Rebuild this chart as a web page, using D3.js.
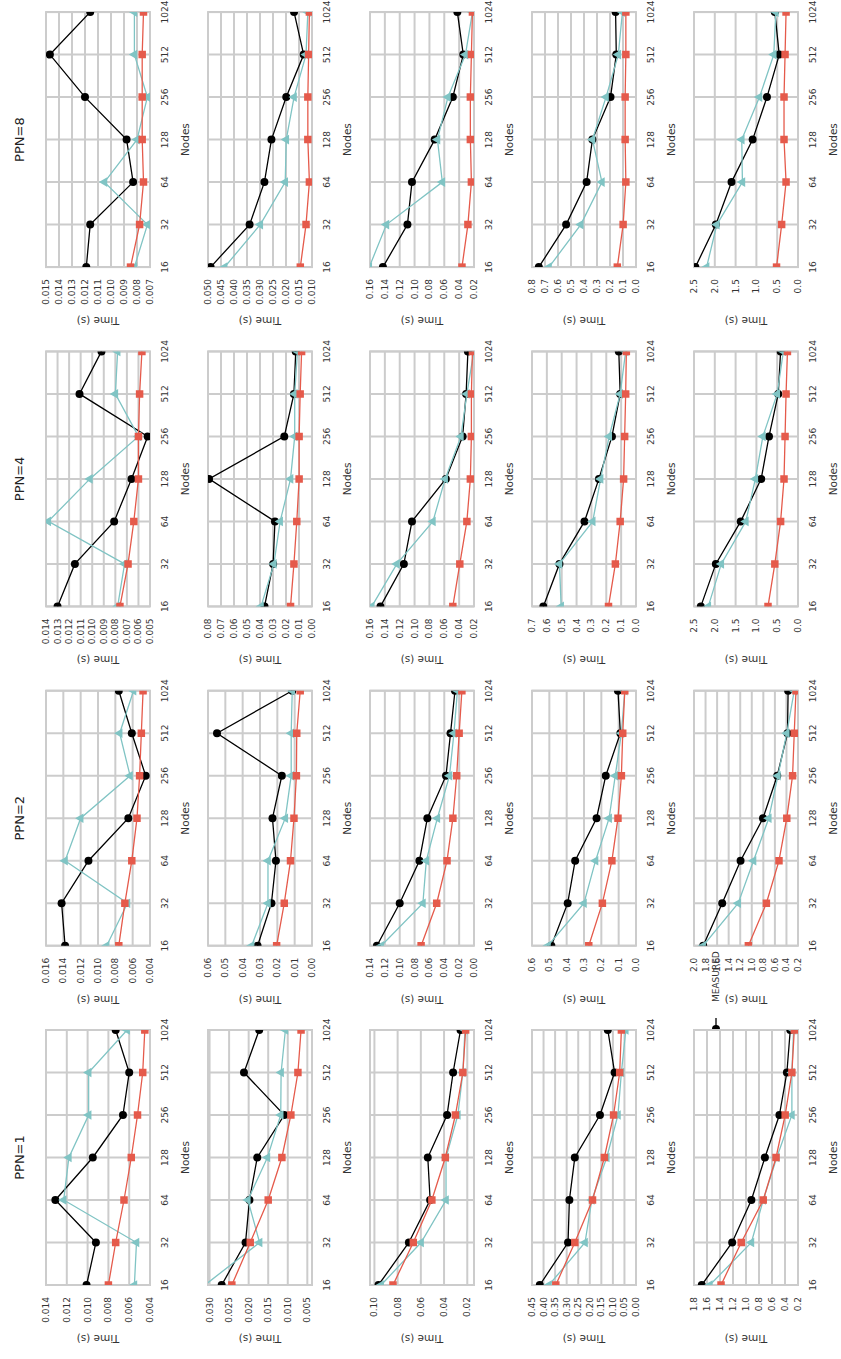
<!DOCTYPE html>
<html>
<head>
<meta charset="utf-8">
<script src="https://cdn.jsdelivr.net/npm/d3@7"></script>
<style>
  body { margin: 0; background: #fff; }
  svg text { font-family: "DejaVu Sans", sans-serif; }
</style>
</head>
<body>
<svg id="fig" width="841" height="1359"></svg>
<script>
// Node counts on the x axis (log2 scale)
const nodes = [16, 32, 64, 128, 256, 512, 1024];
const ppnTitles = ["PPN=1", "PPN=2", "PPN=4", "PPN=8"];

// Times in seconds: [row][ppn][node]
const measured = [
  [[0.0101,0.0092,0.0131,0.0095,0.0066,0.0060,0.0073],
   [0.0138,0.0142,0.0111,0.0065,0.0045,0.0061,0.0076],
   [0.0130,0.0115,0.0081,0.0066,0.0052,0.0111,0.0092],
   [0.0119,0.0116,0.0083,0.0088,0.0120,0.0147,0.0116]],
  [[0.0269,0.0208,0.0198,0.0178,0.0109,0.0212,0.0173],
   [0.0314,0.0234,0.0208,0.0228,0.0174,0.0548,0.0114],
   [0.0365,0.0299,0.0285,0.0792,0.0213,0.0139,0.0125],
   [0.0490,0.0340,0.0283,0.0256,0.0199,0.0132,0.0169]],
  [[0.0965,0.0703,0.0520,0.0540,0.0374,0.0322,0.0258],
   [0.1307,0.1000,0.0735,0.0628,0.0377,0.0316,0.0256],
   [0.1459,0.1144,0.1035,0.0579,0.0353,0.0306,0.0282],
   [0.1426,0.1096,0.1035,0.0729,0.0485,0.0344,0.0424]],
  [[0.4162,0.2941,0.2882,0.2647,0.1559,0.0926,0.1220],
   [0.4882,0.3941,0.3510,0.2275,0.1745,0.0902,0.1040],
   [0.6238,0.5152,0.3467,0.2497,0.1619,0.1065,0.1157],
   [0.7475,0.5375,0.3800,0.3354,0.1960,0.1517,0.1570]],
  [[1.680,1.213,0.917,0.709,0.486,0.371,0.319],
   [1.841,1.512,1.194,0.806,0.559,0.382,0.371],
   [2.336,1.975,1.377,0.885,0.697,0.475,0.418],
   [2.467,1.975,1.598,1.090,0.746,0.451,0.557]]
];

const modelA = [
  [[0.0055,0.0053,0.0123,0.0118,0.0099,0.0099,0.0062],
   [0.0090,0.0066,0.0138,0.0120,0.0063,0.0075,0.0059],
   [0.0078,0.0072,0.0138,0.0102,0.0060,0.0080,0.0078],
   [0.0082,0.0072,0.0105,0.0080,0.0072,0.0082,0.0082]],
  [[0.0312,0.0172,0.0202,0.0152,0.0118,0.0117,0.0106],
   [0.0348,0.0254,0.0254,0.0154,0.0120,0.0120,0.0114],
   [0.0392,0.0293,0.0245,0.0165,0.0133,0.0133,0.0112],
   [0.0436,0.0299,0.0203,0.0199,0.0169,0.0123,0.0116]],
  [[0.0942,0.0598,0.0383,0.0383,0.0281,0.0238,0.0220],
   [0.1247,0.0688,0.0642,0.0493,0.0330,0.0270,0.0223],
   [0.1576,0.1238,0.0753,0.0588,0.0376,0.0296,0.0202],
   [0.1610,0.1379,0.0626,0.0692,0.0551,0.0315,0.0221]],
  [[0.3765,0.2206,0.1912,0.1265,0.0780,0.0632,0.0441],
   [0.5078,0.3000,0.2333,0.1550,0.1196,0.0843,0.0647],
   [0.5037,0.5152,0.2912,0.2381,0.1804,0.1065,0.0695],
   [0.6690,0.4247,0.2620,0.3350,0.2304,0.1360,0.1045]],
  [[1.556,0.917,0.735,0.527,0.294,0.294,0.268],
   [1.841,1.235,0.970,0.706,0.547,0.394,0.265],
   [2.156,1.844,1.254,1.025,0.844,0.500,0.352],
   [2.197,1.951,1.336,1.352,0.926,0.582,0.533]]
];

const modelB = [
  [[0.0080,0.0073,0.0065,0.0058,0.0052,0.0047,0.0045],
   [0.0076,0.0069,0.0061,0.0055,0.0052,0.0050,0.0048],
   [0.0076,0.0069,0.0064,0.0060,0.0060,0.0059,0.0057],
   [0.0085,0.0078,0.0075,0.0076,0.0076,0.0076,0.0075]],
  [[0.0243,0.0196,0.0150,0.0115,0.0092,0.0074,0.0066],
   [0.0204,0.0160,0.0124,0.0104,0.0090,0.0088,0.0068],
   [0.0165,0.0139,0.0117,0.0099,0.0099,0.0091,0.0080],
   [0.0145,0.0123,0.0110,0.0116,0.0116,0.0113,0.0110]],
  [[0.0840,0.0665,0.0505,0.0389,0.0302,0.0238,0.0214],
   [0.0712,0.0502,0.0363,0.0284,0.0233,0.0200,0.0163],
   [0.0485,0.0391,0.0296,0.0249,0.0235,0.0235,0.0221],
   [0.0362,0.0282,0.0235,0.0249,0.0249,0.0235,0.0221]],
  [[0.3470,0.2647,0.1882,0.1368,0.0970,0.0706,0.0632],
   [0.2725,0.1940,0.1390,0.1040,0.0843,0.0765,0.0647],
   [0.1850,0.1388,0.1065,0.0834,0.0764,0.0695,0.0650],
   [0.1438,0.0990,0.0780,0.0835,0.0835,0.0780,0.0780]],
  [[1.384,1.073,0.735,0.538,0.397,0.294,0.257],
   [1.059,0.747,0.529,0.394,0.294,0.265,0.235],
   [0.721,0.557,0.418,0.336,0.311,0.287,0.254],
   [0.516,0.393,0.287,0.336,0.336,0.311,0.287]]
];

// Y tick labels per panel: [row][ppn]
const yTickLabels = [
  [["0.004","0.006","0.008","0.010","0.012","0.014"],
   ["0.004","0.006","0.008","0.010","0.012","0.014","0.016"],
   ["0.005","0.006","0.007","0.008","0.009","0.010","0.011","0.012","0.013","0.014"],
   ["0.007","0.008","0.009","0.010","0.011","0.012","0.013","0.014","0.015"]],
  [["0.005","0.010","0.015","0.020","0.025","0.030"],
   ["0.00","0.01","0.02","0.03","0.04","0.05","0.06"],
   ["0.00","0.01","0.02","0.03","0.04","0.05","0.06","0.07","0.08"],
   ["0.010","0.015","0.020","0.025","0.030","0.035","0.040","0.045","0.050"]],
  [["0.02","0.04","0.06","0.08","0.10"],
   ["0.00","0.02","0.04","0.06","0.08","0.10","0.12","0.14"],
   ["0.02","0.04","0.06","0.08","0.10","0.12","0.14","0.16"],
   ["0.02","0.04","0.06","0.08","0.10","0.12","0.14","0.16"]],
  [["0.00","0.05","0.10","0.15","0.20","0.25","0.30","0.35","0.40","0.45"],
   ["0.0","0.1","0.2","0.3","0.4","0.5","0.6"],
   ["0.0","0.1","0.2","0.3","0.4","0.5","0.6","0.7"],
   ["0.0","0.1","0.2","0.3","0.4","0.5","0.6","0.7","0.8"]],
  [["0.2","0.4","0.6","0.8","1.0","1.2","1.4","1.6","1.8"],
   ["0.2","0.4","0.6","0.8","1.0","1.2","1.4","1.6","1.8","2.0"],
   ["0.0","0.5","1.0","1.5","2.0","2.5"],
   ["0.0","0.5","1.0","1.5","2.0","2.5"]]
];

// Y axis limits per panel: [row][ppn] = [low, high]
const yLimits = [
  [[0.004,0.014],[0.004,0.016],[0.005,0.014],[0.007,0.015]],
  [[0.0038,0.0304],[0.0,0.06],[0.0,0.08],[0.010,0.050]],
  [[0.0142,0.1038],[0.0,0.14],[0.02,0.16],[0.02,0.16]],
  [[0.0,0.45],[0.0,0.6],[0.0,0.7],[0.0,0.8]],
  [[0.2,1.8],[0.2,2.0],[0.0,2.5],[0.0,2.5]]
];

const seriesStyles = [
  { key: "measured", data: measured, color: "#000000", symbol: d3.symbolCircle, size: 50 },
  { key: "modelA",   data: modelA,   color: "#80c4c4", symbol: d3.symbolTriangle, size: 40 },
  { key: "modelB",   data: modelB,   color: "#e55a4b", symbol: d3.symbolSquare, size: 56 }
];

// Landscape figure, turned a quarter turn counter-clockwise onto the page
const FW = 1359, FH = 841;
const svg = d3.select("#fig");
const fig = svg.append("g").attr("transform", `translate(0,${FW}) rotate(-90)`);

const panelW = 255, panelH = 104;
const colLeft = i => 74 + i * 339.3;
const rowTop = j => 46 + j * 162;
const gridColor = "#cccccc";
const tickColor = "#333333";

// Legend (sits behind the panels)
const legend = fig.append("g").attr("transform", `translate(330,716)`);
legend.append("line").attr("x1", -10).attr("x2", 11).attr("y1", 0).attr("y2", 0)
  .attr("stroke", "#000").attr("stroke-width", 1.3);
legend.append("path").attr("d", d3.symbol(d3.symbolCircle, 50)()).attr("fill", "#000");
legend.append("text").attr("x", 27).attr("y", 0).attr("dominant-baseline", "central")
  .attr("font-size", 9).attr("fill", tickColor).text("MEASURED");

const x = d3.scaleLog().base(2).domain([16, 1024]).range([0, panelW]);

for (let j = 0; j < 5; j++) {
  for (let i = 0; i < 4; i++) {
    const g = fig.append("g").attr("transform", `translate(${colLeft(i)},${rowTop(j)})`);
    const y = d3.scaleLinear().domain(yLimits[j][i]).range([panelH, 0]);
    const ticks = yTickLabels[j][i];
    const clipId = `clip-${j}-${i}`;
    g.append("clipPath").attr("id", clipId)
      .append("rect").attr("width", panelW).attr("height", panelH);

    g.append("rect").attr("width", panelW).attr("height", panelH).attr("fill", "#fff");

    // grid
    g.append("g").selectAll("line").data(nodes).join("line")
      .attr("x1", d => x(d)).attr("x2", d => x(d)).attr("y1", 0).attr("y2", panelH)
      .attr("stroke", gridColor).attr("stroke-width", 2);
    g.append("g").selectAll("line").data(ticks).join("line")
      .attr("x1", 0).attr("x2", panelW).attr("y1", d => y(+d)).attr("y2", d => y(+d))
      .attr("stroke", gridColor).attr("stroke-width", 2);
    g.append("rect").attr("width", panelW).attr("height", panelH)
      .attr("fill", "none").attr("stroke", gridColor).attr("stroke-width", 2);

    // series
    const plot = g.append("g").attr("clip-path", `url(#${clipId})`);
    seriesStyles.forEach(s => {
      const vals = s.data[j][i];
      const pts = nodes.map((n, k) => [x(n), y(vals[k])]);
      plot.append("path").attr("d", d3.line()(pts))
        .attr("fill", "none").attr("stroke", s.color).attr("stroke-width", 1.3);
      plot.append("g").selectAll("path").data(pts).join("path")
        .attr("transform", p => `translate(${p[0]},${p[1]})`)
        .attr("d", d3.symbol(s.symbol, s.size)())
        .attr("fill", s.color);
    });

    // x tick labels
    g.append("g").selectAll("text").data(nodes).join("text")
      .attr("x", d => x(d)).attr("y", panelH + 15)
      .attr("text-anchor", "middle").attr("dominant-baseline", "central")
      .attr("font-size", 9).attr("fill", tickColor).text(d => d);
    // y tick labels
    g.append("g").selectAll("text").data(ticks).join("text")
      .attr("x", -12).attr("y", d => y(+d))
      .attr("text-anchor", "end").attr("dominant-baseline", "central")
      .attr("font-size", 9).attr("fill", tickColor).text(d => d);

    g.append("text").attr("x", panelW / 2).attr("y", panelH + 35)
      .attr("text-anchor", "middle").attr("dominant-baseline", "central")
      .attr("font-size", 10.5).attr("fill", tickColor).text("Nodes");
    g.append("text")
      .attr("transform", `translate(-54,${panelH / 2}) rotate(-90)`)
      .attr("text-anchor", "middle").attr("dominant-baseline", "central")
      .attr("font-size", 10.5).attr("fill", tickColor).text("Time (s)");

    if (j === 0) {
      g.append("text").attr("x", panelW / 2).attr("y", 19 - rowTop(0))
        .attr("text-anchor", "middle").attr("dominant-baseline", "central")
        .attr("font-size", 13).attr("fill", "#222").text(ppnTitles[i]);
    }
  }
}
</script>
</body>
</html>
